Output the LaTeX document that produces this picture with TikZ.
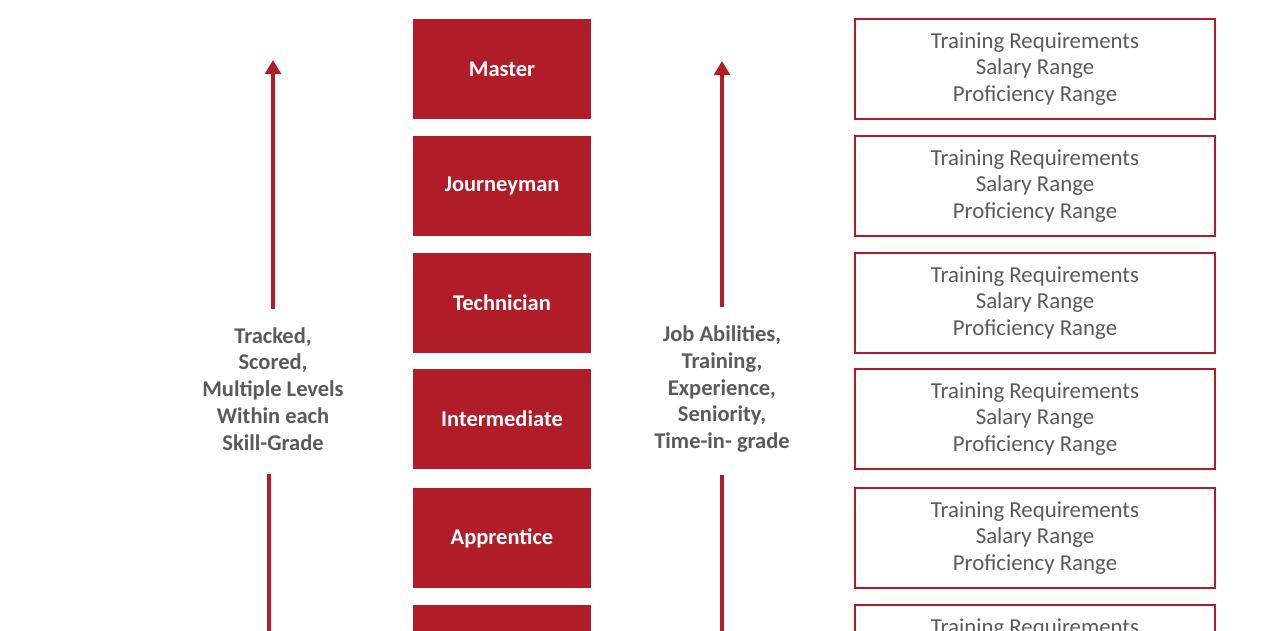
\documentclass[tikz,border=0pt]{standalone}
\usepackage{fontspec}
\setmainfont{Carlito}
\usetikzlibrary{arrows.meta, positioning}
\definecolor{merahtk}{RGB}{176,28,39}
\definecolor{abutk}{RGB}{90,90,90}

\begin{document}
\begin{tikzpicture}[x=0.02cm, y=-0.02cm, font=\fontsize{13}{15.3}\selectfont,
    tingkat/.style={rectangle, fill=merahtk, text=white, font=\fontsize{12.8}{15.3}\selectfont\bfseries,
        minimum width=3.56cm, minimum height=2cm, inner sep=0pt},
    syarat/.style={rectangle, draw=merahtk, line width=1.1pt, text=abutk, align=center,
        minimum width=7.2cm, minimum height=2cm, inner sep=0pt},
    catatan/.style={text=abutk, font=\fontsize{12.8}{15.3}\selectfont\bfseries, align=center, inner sep=0pt},
    panah/.style={draw=merahtk, line width=1.9pt, -{Triangle[length=8pt, width=9pt]}},
    garis/.style={draw=merahtk, line width=1.9pt}]
    \clip (0,0) rectangle (1280,630);
    \fill[white] (0,0) rectangle (1280,630);
        \foreach \i/\y/\lbl in {1/69/Master, 2/186/Journeyman, 3/303/Technician,
            4/419/Intermediate, 5/538/Apprentice, 6/655/{}}
        {
            \node[tingkat] (tingkat\i) at (502,\y) {\lbl};
            \node[syarat] (syarat\i) at (1035,\y) {Training Requirements\\Salary Range\\Proficiency Range};
        }
    % kolom kiri
    \node[catatan] (kiri) at (273,389) {Tracked,\\Scored,\\Multiple Levels\\Within each\\Skill-Grade};
    \coordinate (kiri-atas) at (273,60);
    \coordinate (kiri-bawah) at (269,650);
    \draw[panah] (kiri.north) ++(0,-18) -- (kiri-atas);
    \draw[garis] (kiri-bawah) -- ([yshift=-0.45cm]kiri.south -| kiri-bawah);
    % kolom kanan
    \node[catatan] (kanan) at (722,389) {Job Abilities,\\Training,\\Experience,\\Seniority,\\Time-in- grade};
    \coordinate (kanan-atas) at (722,61);
    \coordinate (kanan-bawah) at (722,650);
    \draw[panah] (kanan.north) ++(0,-18) -- (kanan-atas);
    \draw[garis] (kanan-bawah) -- ([yshift=-0.45cm]kanan.south);
\end{tikzpicture}
\end{document}
